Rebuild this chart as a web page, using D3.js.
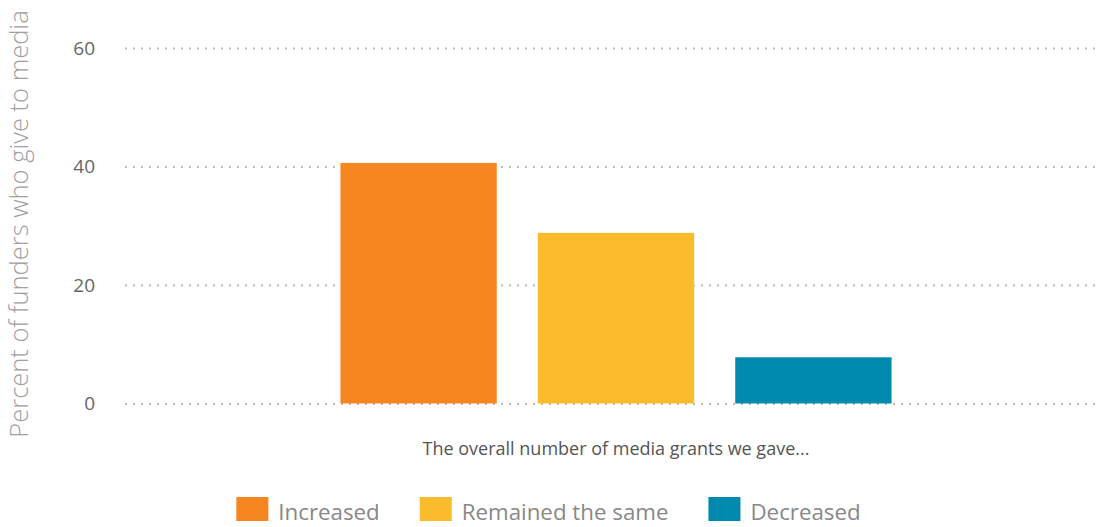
<!DOCTYPE html>
<html>
<head>
<meta charset="utf-8">
<script src="https://cdn.jsdelivr.net/npm/d3@7"></script>
<style>
  html, body { margin: 0; padding: 0; background: #fff; }
  svg { display: block; font-family: "Open Sans", sans-serif; }
</style>
</head>
<body>
<svg id="chart" width="1097" height="527"></svg>
<script>
// ---- data ----
const groupLabels = ["The overall number of media grants we gave..."];
const seriesNames = ["Increased", "Remained the same", "Decreased"];
const seriesValues = [40.6, 28.8, 7.8];
const seriesColors = ["#F58620", "#FBBC2B", "#0089AE"];
const yTicks = [0, 20, 40, 60];
const yTitle = "Percent of funders who give to media";

// ---- layout ----
const W = 1097, H = 527;
const plot = { left: 125, right: 1095, top: 48, bottom: 403.5 };

const svg = d3.select("#chart");

const y = d3.scaleLinear().domain([0, 60]).range([plot.bottom, plot.top]);

const x0 = d3.scaleBand()
  .domain(groupLabels)
  .range([plot.left + 6, plot.right + 6])
  .paddingInner(0)
  .paddingOuter(0.38);

const x1 = d3.scaleBand()
  .domain(seriesNames)
  .range([0, x0.bandwidth()])
  .paddingInner(0.208)
  .paddingOuter(0);

// gridlines
const yAxis = d3.axisLeft(y)
  .tickValues(yTicks)
  .tickSize(-(plot.right - plot.left))
  .tickPadding(30)
  .tickFormat(d3.format("d"));

const gAxis = svg.append("g")
  .attr("transform", `translate(${plot.left},0)`)
  .call(yAxis);
gAxis.select(".domain").remove();
gAxis.selectAll(".tick line")
  .attr("stroke", "#bbbbbb")
  .attr("stroke-width", 2)
  .attr("stroke-dasharray", "2,6");
gAxis.selectAll(".tick text")
  .attr("fill", "#666666")
  .attr("font-size", 19)
  .attr("font-family", "'Open Sans', sans-serif");

// bars
const groups = svg.append("g")
  .selectAll("g")
  .data(groupLabels)
  .join("g")
  .attr("transform", d => `translate(${x0(d)},0)`);

groups.selectAll("rect")
  .data(() => seriesNames.map((s, i) => ({ s, v: seriesValues[i], c: seriesColors[i] })))
  .join("rect")
  .attr("x", d => x1(d.s))
  .attr("width", x1.bandwidth())
  .attr("y", d => y(d.v))
  .attr("height", d => y(0) - y(d.v))
  .attr("fill", d => d.c);

// x category label
svg.append("g")
  .selectAll("text")
  .data(groupLabels)
  .join("text")
  .attr("x", d => x0(d) + x0.bandwidth() / 2)
  .attr("y", 455)
  .attr("text-anchor", "middle")
  .attr("fill", "#555555")
  .attr("font-size", 18)
  .text(d => d);

// y title
svg.append("text")
  .attr("transform", `translate(28, 224) rotate(-90)`)
  .attr("text-anchor", "middle")
  .attr("fill", "#a0a0a0")
  .attr("font-size", 25.5)
  .attr("font-weight", 300)
  .text(yTitle);

// legend
const legend = svg.append("g");
const items = legend.selectAll("g")
  .data(seriesNames.map((s, i) => ({ s, c: seriesColors[i] })))
  .join("g");
items.append("rect")
  .attr("width", 32).attr("height", 24)
  .attr("y", 497)
  .attr("fill", d => d.c);
items.append("text")
  .attr("x", 42)
  .attr("y", 520)
  .attr("fill", "#888888")
  .attr("font-size", 22.3)
  .text(d => d.s);
let cx = 0;
items.each(function () {
  d3.select(this).attr("transform", `translate(${cx},0)`);
  cx += this.getBBox().width + 40;
});
const legendW = cx - 40;
legend.attr("transform", `translate(${(W - legendW) / 2},0)`);
</script>
</body>
</html>
